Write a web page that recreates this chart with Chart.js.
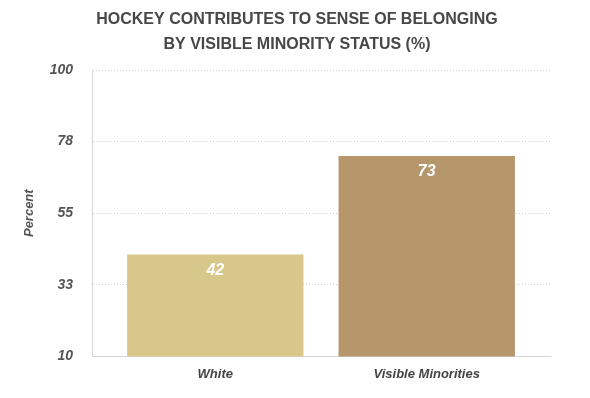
<!DOCTYPE html>
<html>
<head>
<meta charset="utf-8">
<script src="https://cdn.jsdelivr.net/npm/chart.js@4/dist/chart.umd.min.js"></script>
<style>
  html, body { margin: 0; padding: 0; background: #fff; }
  #wrap { width: 590px; height: 398px; }
</style>
</head>
<body>
<div id="wrap"><canvas id="c" width="590" height="398"></canvas></div>
<script>
const categories = ['White', 'Visible Minorities'];
const values = [42, 73];
const barColors = ['#D8C78A', '#B5976B'];
const yTickLabels = ['10', '33', '55', '78', '100'];
const titleLines = ['HOCKEY CONTRIBUTES TO SENSE OF BELONGING', 'BY VISIBLE MINORITY STATUS (%)'];

const barPct = 0.834;
const FONT = '"Liberation Sans", Arial, Helvetica, sans-serif';

const customTitle = {
  id: 'customTitle',
  afterDraw(chart) {
    const ctx = chart.ctx;
    ctx.save();
    ctx.fillStyle = '#474747';
    ctx.font = 'bold 16px ' + FONT;
    ctx.textAlign = 'center';
    ctx.textBaseline = 'middle';
    titleLines.forEach((t, i) => ctx.fillText(t, 297, 20 + i * 25));
    ctx.restore();
  }
};

const valueLabels = {
  id: 'valueLabels',
  afterDraw(chart) {
    const ctx = chart.ctx;
    const meta = chart.getDatasetMeta(0);
    ctx.save();
    ctx.fillStyle = '#ffffff';
    ctx.font = 'italic bold 16px ' + FONT;
    ctx.textAlign = 'center';
    ctx.textBaseline = 'middle';
    meta.data.forEach((bar, i) => {
      ctx.fillText(String(values[i]), bar.x, bar.y + 16);
    });
    ctx.restore();
  }
};

new Chart(document.getElementById('c'), {
  type: 'bar',
  data: {
    datasets: [{
      data: categories.map((c, i) => ({ x: i + 1, y: values[i] })),
      backgroundColor: barColors,
      borderWidth: 0,
      categoryPercentage: 1,
      barPercentage: barPct
    }]
  },
  options: {
    responsive: false,
    animation: false,
    devicePixelRatio: 1,
    layout: { padding: { left: 8, right: 40, top: 70, bottom: 6 } },
    plugins: {
      legend: { display: false },
      tooltip: { enabled: false },
      title: { display: false }
    },
    scales: {
      x: {
        type: 'linear',
        offset: false,
        min: barPct / 2,
        max: categories.length + 1 - barPct / 2,
        afterBuildTicks(scale) {
          scale.ticks = categories.map((c, i) => ({ value: i + 1 }));
        },
        grid: { display: false, drawTicks: false },
        border: { display: true, color: '#d6d6d6', width: 1 },
        ticks: {
          autoSkip: false,
          maxRotation: 0,
          padding: 10,
          color: '#444444',
          font: { family: FONT, size: 13, weight: 'bold', style: 'italic' },
          callback: (v) => categories[Math.round(v) - 1] || ''
        }
      },
      y: {
        min: 10,
        max: 100,
        z: 1,
        afterFit(scale) { scale.width = 84; },
        ticks: {
          stepSize: 22.5,
          padding: 19,
          color: '#555555',
          font: { family: FONT, size: 14, weight: 'bold', style: 'italic' },
          callback: (v, i) => yTickLabels[i]
        },
        grid: {
          color: 'rgba(120,120,120,0.35)',
          drawTicks: false,
          lineWidth: 1
        },
        border: { display: true, color: '#d6d6d6', width: 1, dash: [1, 2] },
        title: {
          display: true,
          text: 'Percent',
          color: '#555555',
          font: { family: FONT, size: 13, weight: 'bold', style: 'italic' },
          padding: { top: 14, bottom: 0 }
        }
      }
    }
  },
  plugins: [customTitle, valueLabels]
});
</script>
</body>
</html>
